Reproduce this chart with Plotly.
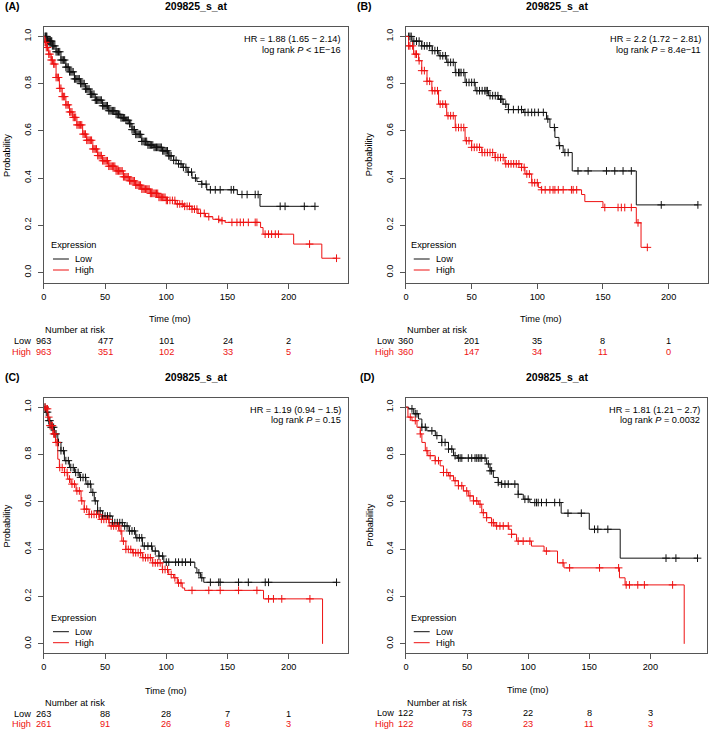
import numpy as np
import plotly.graph_objects as go

W, H = 709, 730

# ---------------- data ----------------
probe = "209825_s_at"
panel_labels = ["(A)", "(B)", "(C)", "(D)"]
risk_ticks = [0, 50, 100, 150, 200]

# Panel A
A_low_t = [0, 3, 7, 10, 14, 18, 21, 25, 30, 34, 38, 42, 48, 53, 59, 63, 67, 70, 72, 75, 80, 85, 90, 97, 102, 106, 110, 113, 117, 121, 125, 129, 133, 158, 176.5, 221.4]
A_low_s = [1.0, 0.98, 0.96, 0.935, 0.90, 0.87, 0.85, 0.82, 0.80, 0.777, 0.755, 0.73, 0.706, 0.685, 0.67, 0.655, 0.645, 0.63, 0.605, 0.585, 0.555, 0.54, 0.53, 0.515, 0.494, 0.475, 0.46, 0.445, 0.425, 0.40, 0.385, 0.374, 0.35, 0.33, 0.28, 0.28]
A_low_cens = [1, 1.5, 2, 2.5, 3, 3.5, 4, 4.5, 5, 5.5, 6, 6.5, 7, 8, 9, 10, 11, 12, 13, 14, 15, 16, 17, 18, 19, 20, 21, 22, 23, 24, 25, 26, 27, 28, 29, 30, 31, 32, 33, 34, 35, 36, 37, 38, 39, 40, 41, 42, 43, 44, 45, 46, 47, 48, 49, 50, 51, 52, 53, 54, 55, 56, 57, 58, 59, 60, 61, 62, 63, 64, 65, 66, 67, 68, 69, 70, 71, 72, 73, 74, 75, 76, 77, 78, 79, 80, 81, 82, 83, 84, 85, 86, 87, 88, 89, 90, 91, 92, 93, 94, 95, 96, 97, 98, 99, 100, 101, 102, 103, 104, 106, 108, 110, 112, 114, 116, 118, 120.6, 123.8, 129, 132.5, 136, 140, 144, 153, 155, 161.8, 166, 172.6, 175, 193, 197, 212.7, 221.4]
A_high_t = [0, 1, 2, 4, 6, 7.3, 10, 12.7, 15, 18, 21, 23.6, 27, 31.7, 35, 40, 44, 48, 53, 59, 65, 70, 75, 80, 87, 94, 100, 107.6, 114, 121, 126, 132, 138, 143, 148, 177, 179, 204, 227, 239]
A_high_s = [1.0, 0.975, 0.953, 0.925, 0.90, 0.883, 0.826, 0.78, 0.745, 0.71, 0.68, 0.657, 0.625, 0.586, 0.56, 0.523, 0.495, 0.473, 0.45, 0.43, 0.405, 0.388, 0.37, 0.353, 0.335, 0.318, 0.305, 0.29, 0.28, 0.268, 0.25, 0.236, 0.225, 0.219, 0.212, 0.19, 0.162, 0.12, 0.06, 0.06]
A_high_cens = [1, 1.5, 2, 3, 4, 5, 6, 7, 8, 9, 10, 11, 12, 13, 14, 15, 16, 17, 18, 19, 20, 21, 22, 23, 24, 25, 26, 27, 28, 29, 30, 31, 32, 33, 34, 35, 36, 37, 38, 39, 40, 41, 42, 43, 44, 45, 46, 47, 48, 49, 50, 51, 52, 53, 54, 55, 56, 57, 58, 59, 60, 61, 62, 63, 64, 65, 66, 67, 68, 69, 70, 71, 72, 73, 74, 75, 76, 77, 78, 79, 80, 81, 82, 83, 84, 85, 86, 87, 88, 89, 90, 91, 92, 93, 94, 95, 96, 97, 98, 99, 100, 101, 103, 105, 107, 109, 111, 113, 115, 117, 119, 121, 123, 125, 128, 131, 134.7, 142.8, 145.5, 153.6, 157.7, 160.4, 163, 167, 172.6, 174, 180.7, 183.5, 186, 189, 191.6, 217, 239]
A_risk_low = [963, 477, 101, 24, 2]
A_risk_high = [963, 351, 102, 33, 5]
A_hr = "HR = 1.88 (1.65 − 2.14)"
A_p = "log rank <i>P</i> &lt; 1E−16"

# Panel B
B_low_t = [0, 4.6, 12, 20, 25, 31, 37.5, 45, 52.7, 62.8, 70.4, 74, 78, 89.4, 107, 109.6, 113.4, 116.5, 119.7, 126.6, 175.4, 222.3]
B_low_s = [1.0, 0.98, 0.96, 0.94, 0.918, 0.89, 0.847, 0.805, 0.77, 0.749, 0.734, 0.713, 0.69, 0.678, 0.65, 0.614, 0.572, 0.537, 0.508, 0.43, 0.286, 0.286]
B_low_cens = [2, 3, 4, 6, 8, 10, 12, 14, 16, 18, 20, 22, 24, 26, 28, 30, 32, 34, 36, 38, 40, 41, 42, 44, 46, 48, 50, 52, 54, 56, 58, 60, 61, 62, 64, 66, 68, 70, 72, 73, 76, 78, 81.8, 85.6, 88, 90.6, 93, 95.7, 98, 100.8, 104.6, 108, 113, 117, 121, 123.5, 131, 138.7, 152.7, 159, 165.3, 171.6, 194.4, 222.3]
B_high_t = [0, 2, 5.8, 9.6, 12, 16, 19.7, 24.8, 31, 37.5, 45, 50, 57.7, 67.8, 75.4, 88, 90.6, 95.7, 100.8, 103, 133.7, 136.2, 150, 175.4, 179, 183.8]
B_high_s = [1.0, 0.96, 0.925, 0.897, 0.855, 0.81, 0.77, 0.713, 0.664, 0.614, 0.558, 0.53, 0.508, 0.487, 0.46, 0.445, 0.417, 0.38, 0.36, 0.35, 0.33, 0.30, 0.275, 0.21, 0.106, 0.106]
B_high_cens = [2, 3, 5, 7, 8, 10, 12, 14, 16, 18, 20, 22, 24, 26, 28, 30, 32, 34, 36, 38, 40, 42, 44, 46, 48, 50, 52, 54, 56, 58, 60, 62, 64, 66, 68, 70, 72, 74, 76, 78, 80, 82, 84, 86, 88, 90, 92, 94, 96, 98, 100, 103.3, 106, 109.6, 112, 113.4, 116, 119.7, 126, 127.3, 130, 151.4, 161.5, 164, 166.6, 171.6, 176.7, 183.8]
B_risk_low = [360, 201, 35, 8, 1]
B_risk_high = [360, 147, 34, 11, 0]
B_hr = "HR = 2.2 (1.72 − 2.81)"
B_p = "log rank <i>P</i> = 8.4e−11"

# Panel C
C_low_t = [0, 1.4, 3.3, 6, 8.7, 11.4, 14, 16.8, 20.9, 25, 29, 34.4, 38.5, 41.2, 43.9, 48, 56, 64.2, 69.6, 75, 80.5, 88.6, 94, 98, 123.3, 125, 128, 130.6, 239]
C_low_s = [1.0, 0.979, 0.943, 0.915, 0.887, 0.851, 0.816, 0.774, 0.745, 0.724, 0.703, 0.675, 0.64, 0.604, 0.562, 0.54, 0.512, 0.498, 0.477, 0.448, 0.413, 0.392, 0.371, 0.345, 0.321, 0.30, 0.279, 0.26, 0.26]
C_low_cens = [1, 2, 3, 4, 5, 6, 7, 8, 9, 10, 12, 14, 16, 18, 20, 22, 24, 26, 28, 30, 32, 34, 36, 38, 40, 42, 44, 46, 48, 50, 52, 54, 56, 58, 60, 62, 64, 66, 68, 70, 72, 74, 76, 78, 80, 82, 85, 88, 91, 94, 97, 100, 102, 107.6, 110, 113, 115.7, 119.8, 126.6, 129, 136, 142.8, 144, 159, 167, 180.8, 183.5, 239]
C_high_t = [0, 1.9, 3.3, 4.6, 7.3, 9.5, 11.4, 12.7, 16.8, 19.5, 22.2, 26.3, 30.4, 33, 37, 45.3, 53.4, 61.5, 63.7, 67, 72.4, 80.5, 88.6, 96.7, 102, 106, 109, 113, 115, 179.4, 227.6]
C_high_s = [1.0, 0.993, 0.958, 0.922, 0.887, 0.851, 0.78, 0.745, 0.724, 0.696, 0.675, 0.646, 0.604, 0.569, 0.547, 0.526, 0.498, 0.477, 0.434, 0.399, 0.385, 0.364, 0.342, 0.314, 0.293, 0.279, 0.257, 0.236, 0.226, 0.19, 0.0]
C_high_cens = [1, 2, 3, 4, 5, 6, 7, 8, 9, 10, 11, 13, 15, 17, 19, 21, 23, 25, 27, 29, 31, 33, 35, 37, 39, 41, 43, 45, 47, 49, 51, 53, 55, 57, 59, 61, 63, 65, 67, 69, 71, 73, 75, 77, 79, 81, 83, 85, 87, 89, 91, 93, 95, 97, 99, 101, 104, 107, 110, 112, 121, 134.7, 144, 159, 174, 183.5, 187.5, 194.3, 217.3]
C_risk_low = [263, 88, 28, 7, 1]
C_risk_high = [261, 91, 26, 8, 3]
C_hr = "HR = 1.19 (0.94 − 1.5)"
C_p = "log rank <i>P</i> = 0.15"

# Panel D
D_low_t = [0, 2.2, 6.3, 10.3, 13, 17, 24, 29.3, 34.8, 38.9, 42, 66, 68.8, 71.5, 75.5, 78, 91.8, 96, 101.4, 127, 150, 175.3, 238.6]
D_low_s = [1.0, 0.993, 0.972, 0.95, 0.915, 0.90, 0.88, 0.851, 0.823, 0.795, 0.785, 0.76, 0.731, 0.703, 0.682, 0.675, 0.632, 0.611, 0.597, 0.552, 0.484, 0.362, 0.362]
D_low_cens = [4.9, 7.6, 9, 13, 15.8, 21.2, 25.3, 29.3, 32, 34.8, 37.5, 40.2, 42.9, 44.3, 45.7, 51, 53.8, 56.5, 57.9, 59.2, 60.6, 62, 64.7, 67.4, 68.8, 70.1, 75.5, 78.3, 81, 83.7, 89.1, 91.8, 97.3, 100, 105.4, 106.8, 108.2, 110.9, 114.9, 121.7, 125.8, 132.6, 143.5, 154.3, 157, 165.2, 212.8, 220.9, 238.6]
D_high_t = [0, 1.6, 4.9, 9, 11.7, 13, 15.8, 17.9, 23.9, 28, 30.7, 34.8, 38.9, 42.9, 47, 51, 55.2, 59.2, 62, 66, 70, 72.8, 84.2, 86.4, 90.5, 102.7, 113, 124, 129.3, 174.7, 179.3, 227.7]
D_high_s = [1.0, 0.958, 0.943, 0.915, 0.887, 0.851, 0.816, 0.795, 0.774, 0.752, 0.724, 0.71, 0.689, 0.668, 0.646, 0.625, 0.604, 0.59, 0.554, 0.533, 0.512, 0.498, 0.484, 0.463, 0.434, 0.413, 0.392, 0.342, 0.321, 0.279, 0.249, 0.0]
D_high_cens = [3.5, 7.6, 11.7, 17.1, 19.8, 23.9, 26.6, 30.7, 33.4, 36.1, 40.2, 42.9, 45.7, 49.7, 52.4, 55.2, 57.9, 60.6, 63.3, 66, 70.1, 71.5, 74.2, 76.9, 79.6, 83.7, 86.4, 91.8, 95.9, 101.4, 114.9, 128.5, 133.9, 158.4, 174.0, 180.2, 182.9, 189.7, 195.1, 218.2]
D_risk_low = [122, 73, 22, 8, 3]
D_risk_high = [122, 68, 23, 11, 3]
D_hr = "HR = 1.81 (1.21 − 2.7)"
D_p = "log rank <i>P</i> = 0.0032"

# ---------------- styling / geometry (pixels) ----------------
LOW_C = "#111111"
HIGH_C = "#ee1111"
AX_C = "#555555"
FONT = "Liberation Sans, Arial, sans-serif"
FS = 9.2

def px(x):
    return x / W

def py(y):
    return 1 - y / H

panels = [
    dict(n=1, box=(41, 346, 27, 283), xmax=248, yr=(-0.045, 1.04),
         lt=A_low_t, ls=A_low_s, lc=A_low_cens, ht=A_high_t, hs=A_high_s, hc=A_high_cens,
         rl=A_risk_low, rh=A_risk_high, hr=A_hr, p=A_p, lab=panel_labels[0], labx=1,
         timex=167.5, timey=319.5, nar=330, rowl=341, rowh=352, leg=(245, 259, 270), legx=46.7),
    dict(n=2, box=(404.7, 708, 27, 283), xmax=230, yr=(-0.045, 1.04),
         lt=B_low_t, ls=B_low_s, lc=B_low_cens, ht=B_high_t, hs=B_high_s, hc=B_high_cens,
         rl=B_risk_low, rh=B_risk_high, hr=B_hr, p=B_p, lab=panel_labels[1], labx=355,
         timex=540.7, timey=318.5, nar=330, rowl=341, rowh=351.5, leg=(245, 259, 270), legx=409),
    dict(n=3, box=(41, 346, 397.7, 653.3), xmax=248, yr=(-0.04, 1.04),
         lt=C_low_t, ls=C_low_s, lc=C_low_cens, ht=C_high_t, hs=C_high_s, hc=C_high_cens,
         rl=C_risk_low, rh=C_risk_high, hr=C_hr, p=C_p, lab=panel_labels[2], labx=1,
         timex=164, timey=690.5, nar=703, rowl=713.5, rowh=724.3, leg=(617.7, 631.7, 642.7), legx=46.7),
    dict(n=4, box=(404.7, 707.3, 397.7, 653.3), xmax=246.6, yr=(-0.04, 1.04),
         lt=D_low_t, ls=D_low_s, lc=D_low_cens, ht=D_high_t, hs=D_high_s, hc=D_high_cens,
         rl=D_risk_low, rh=D_risk_high, hr=D_hr, p=D_p, lab=panel_labels[3], labx=358,
         timex=527.7, timey=690, nar=702.7, rowl=712.5, rowh=724.3, leg=(617.7, 631.7, 642.7), legx=409),
]


def step_value(times, survs, tc):
    idx = np.searchsorted(np.asarray(times), np.asarray(tc), side="right") - 1
    return np.asarray(survs)[idx]


fig = go.Figure()
annotations = []
shapes = []
layout_axes = {}

for P in panels:
    n = P["n"]
    xa = "x" if n == 1 else f"x{n}"
    ya = "y" if n == 1 else f"y{n}"
    x0, x1, ytop, ybot = P["box"]

    for t, s, c, col in ((P["lt"], P["ls"], P["lc"], LOW_C), (P["ht"], P["hs"], P["hc"], HIGH_C)):
        fig.add_trace(go.Scatter(x=t, y=s, mode="lines", line=dict(color=col, width=1, shape="hv"),
                                 xaxis=xa, yaxis=ya, showlegend=False, hoverinfo="skip"))
        fig.add_trace(go.Scatter(x=c, y=step_value(t, s, c), mode="markers",
                                 marker=dict(symbol="cross-thin", size=5.5, line=dict(width=1, color=col)),
                                 xaxis=xa, yaxis=ya, showlegend=False, hoverinfo="skip"))

    kx = "xaxis" if n == 1 else f"xaxis{n}"
    ky = "yaxis" if n == 1 else f"yaxis{n}"
    layout_axes[kx] = dict(domain=[px(x0), px(x1)], range=[0, P["xmax"]], anchor=ya,
                           tickvals=risk_ticks, ticks="outside", ticklen=5, tickcolor=AX_C,
                           showline=True, mirror=True, linecolor=AX_C, linewidth=1,
                           showgrid=False, zeroline=False, fixedrange=True,
                           tickfont=dict(family=FONT, size=FS, color="black"))
    layout_axes[ky] = dict(domain=[py(ybot), py(ytop)], range=list(P["yr"]), anchor=xa,
                           tickvals=[0, 0.2, 0.4, 0.6, 0.8, 1.0],
                           ticktext=["0.0", "0.2", "0.4", "0.6", "0.8", "1.0"],
                           tickangle=-90, ticks="outside", ticklen=5, tickcolor=AX_C,
                           ticklabelstandoff=3,
                           showline=True, mirror=True, linecolor=AX_C, linewidth=1,
                           showgrid=False, zeroline=False, fixedrange=True,
                           tickfont=dict(family=FONT, size=FS, color="black"))

    def ann(text, x, y, xanchor="center", size=FS, color="black", xref="paper", angle=0):
        annotations.append(dict(text=text, x=x, y=py(y), xref=xref, yref="paper",
                                xanchor=xanchor, yanchor="middle", showarrow=False,
                                textangle=angle, borderpad=0,
                                font=dict(family=FONT, size=size, color=color)))

    # titles and labels
    ann(f"<b>{P['lab']}</b>", px(P["labx"]), 6 if n <= 2 else 377, xanchor="left", size=10.5)
    ann(f"<b>{probe}</b>", px((x0 + x1) / 2), 6 if n <= 2 else 377, size=10.5)
    # HR / p text
    ann(P["hr"], px(x1 - 6), ytop + 12, xanchor="right")
    ann(P["p"], px(x1 - 6), ytop + 22.5, xanchor="right")
    # y title
    ann("Probability", px(x0 - 37), (ytop + ybot) / 2 + 0, angle=-90)
    # x title
    ann("Time (mo)", px(P["timex"]), P["timey"])
    # legend
    ly_head, ly_low, ly_high = P["leg"]
    lx = P["legx"]
    ann("Expression", px(lx), ly_head, xanchor="left")
    ann("Low", px(lx + 24.5), ly_low, xanchor="left")
    ann("High", px(lx + 24.5), ly_high, xanchor="left")
    for yy, col in ((ly_low, LOW_C), (ly_high, HIGH_C)):
        shapes.append(dict(type="line", xref="paper", yref="paper",
                           x0=px(lx + 3.5), x1=px(lx + 19.5), y0=py(yy), y1=py(yy),
                           line=dict(color=col, width=1)))
    # number at risk
    ann("Number at risk", px(x0), P["nar"], xanchor="left")
    ann("Low", px(x0 - 11.5), P["rowl"], xanchor="right")
    ann("High", px(x0 - 11.5), P["rowh"], xanchor="right", color=HIGH_C)
    for tk, vl, vh in zip(risk_ticks, P["rl"], P["rh"]):
        annotations.append(dict(text=str(vl), x=tk, y=py(P["rowl"]), xref=xa, yref="paper",
                                xanchor="center", yanchor="middle", showarrow=False,
                                font=dict(family=FONT, size=FS, color="black")))
        annotations.append(dict(text=str(vh), x=tk, y=py(P["rowh"]), xref=xa, yref="paper",
                                xanchor="center", yanchor="middle", showarrow=False,
                                font=dict(family=FONT, size=FS, color=HIGH_C)))

fig.update_layout(width=W, height=H, margin=dict(l=0, r=0, t=0, b=0),
                  paper_bgcolor="white", plot_bgcolor="white",
                  annotations=annotations, shapes=shapes, showlegend=False,
                  **layout_axes)

fig.write_html("out.html", config={"displayModeBar": False},
               post_script="document.body.style.margin='0';document.body.style.overflow='hidden';")
